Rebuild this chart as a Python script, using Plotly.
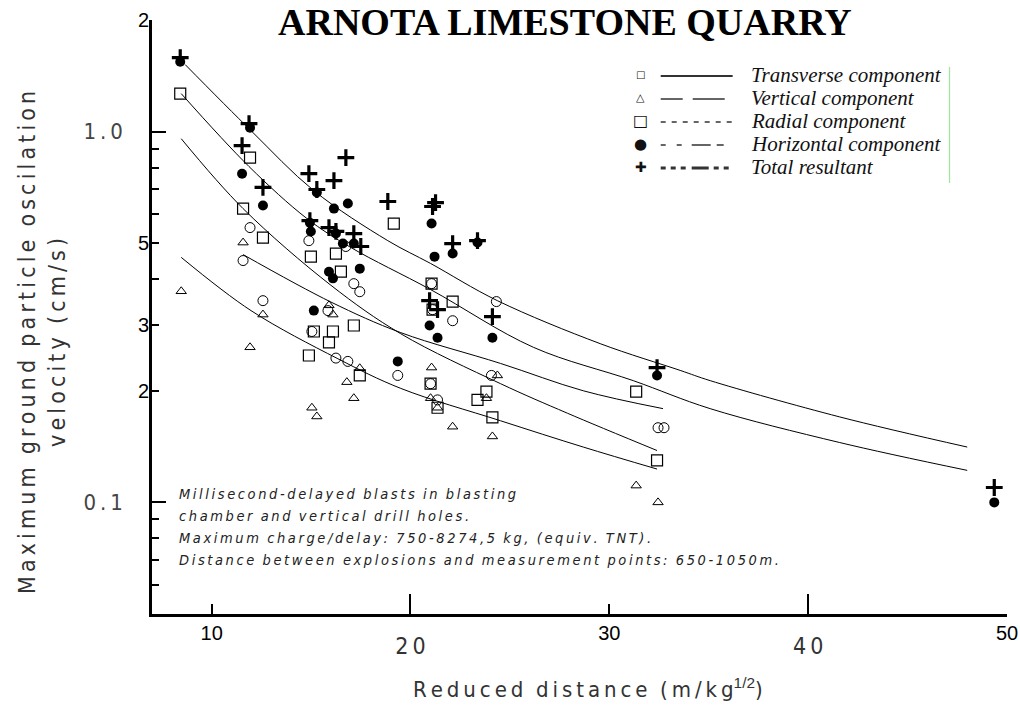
import plotly.graph_objects as go

# ---------------- data ----------------
# Reduced distance (m/kg^1/2) and max ground particle velocity (cm/s)
trans_x = [11.93, 11.58, 12.58, 14.89, 15.85, 15.04, 16.25, 16.75, 16.85, 17.15, 17.45,
           19.36, 21.06, 21.11, 22.12, 21.01, 21.36, 24.07, 24.32, 32.45, 32.75]
trans_v = [0.551, 0.449, 0.350, 0.508, 0.329, 0.289, 0.245, 0.490, 0.240, 0.389, 0.370,
           0.220, 0.389, 0.331, 0.309, 0.209, 0.189, 0.220, 0.348, 0.159, 0.159]

vert_x = [8.47, 11.58, 12.58, 11.93, 15.90, 16.10, 15.04, 15.29, 16.80, 17.15, 17.45,
          21.06, 21.01, 21.36, 22.12, 23.82, 24.37, 24.12, 31.35, 32.45]
vert_v = [0.371, 0.502, 0.321, 0.262, 0.340, 0.321, 0.180, 0.1705, 0.211, 0.191, 0.230,
          0.231, 0.191, 0.180, 0.160, 0.191, 0.220, 0.1506, 0.111, 0.100]

rad_x = [8.42, 11.93, 11.58, 12.58, 14.99, 16.25, 16.50, 15.14, 16.10, 15.90, 14.89, 17.15,
         17.45, 19.16, 21.06, 22.12, 21.11, 21.01, 21.36, 23.82, 23.37, 24.12, 31.35, 32.40]
rad_v = [1.266, 0.851, 0.620, 0.518, 0.460, 0.469, 0.419, 0.289, 0.289, 0.270, 0.249, 0.300,
         0.220, 0.565, 0.389, 0.348, 0.331, 0.209, 0.180, 0.199, 0.189, 0.1695, 0.199, 0.1298]

hor_x = [8.42, 11.93, 11.53, 12.58, 14.94, 14.99, 15.29, 16.15, 16.85, 16.25, 16.60, 17.15,
         15.90, 16.10, 17.45, 15.14, 19.36, 21.06, 21.21, 22.12, 23.37, 20.96, 21.36, 24.12,
         32.40, 49.36]
hor_v = [1.544, 1.025, 0.770, 0.632, 0.568, 0.538, 0.685, 0.620, 0.640, 0.531, 0.499, 0.499,
         0.419, 0.402, 0.427, 0.329, 0.240, 0.565, 0.460, 0.469, 0.502, 0.300, 0.278, 0.278,
         0.220, 0.100]

tot_x = [8.42, 11.88, 11.53, 12.58, 14.89, 15.29, 16.15, 16.75, 18.86, 14.94, 15.90, 16.25,
         17.15, 17.50, 21.11, 21.26, 22.12, 23.37, 20.96, 21.36, 24.12, 32.40, 49.36]
tot_v = [1.583, 1.051, 0.917, 0.707, 0.770, 0.698, 0.738, 0.851, 0.648, 0.575, 0.551, 0.538,
         0.531, 0.490, 0.628, 0.643, 0.499, 0.508, 0.350, 0.331, 0.317, 0.231, 0.1097]

# fitted curves
fit_tot_x = [8.67, 11.98, 15.14, 18.86, 21.01, 24.37, 29.54, 33.56, 35.07, 41.59, 48.0]
fit_tot_v = [1.516, 1.006, 0.693, 0.508, 0.441, 0.350, 0.268, 0.227, 0.213, 0.170, 0.141]
fit_hor_x = [8.47, 11.88, 14.79, 17.0, 21.01, 26.18, 31.20, 35.07, 41.59, 48.0]
fit_hor_v = [1.266, 0.805, 0.583, 0.487, 0.375, 0.262, 0.213, 0.179, 0.145, 0.122]
fit_rad_x = [8.47, 11.58, 16.0, 19.51, 24.53, 27.89, 32.40]
fit_rad_v = [0.957, 0.620, 0.385, 0.285, 0.209, 0.174, 0.138]
fit_trans_x = [11.58, 16.0, 19.51, 24.53, 28.69, 32.70]
fit_trans_v = [0.466, 0.347, 0.287, 0.237, 0.200, 0.179]
fit_vert_x = [8.47, 11.98, 16.35, 19.51, 24.53, 28.69, 32.40]
fit_vert_v = [0.458, 0.329, 0.244, 0.203, 0.166, 0.141, 0.123]

x_major_vals = [20, 40]
x_major_text = ["20", "40"]
x_minor_vals = [10, 30, 50]
x_minor_text = ["10", "30", "50"]
y_major_vals = [1.0, 0.1]
y_major_text = ["1.0", "0.1"]
y_mid_vals = [2, 0.5, 0.3, 0.2]
y_mid_text = ["2", "5", "3", "2"]
y_small_vals = [0.9, 0.8, 0.7, 0.6, 0.4, 0.09, 0.08, 0.07, 0.06]

legend_names = ["Transverse component", "Vertical component", "Radial component",
                "Horizontal component", "Total resultant"]
note_lines = ["Millisecond-delayed blasts in blasting",
              "chamber and vertical drill holes.",
              "Maximum charge/delay: 750-8274,5 kg, (equiv. TNT).",
              "Distance between explosions and measurement points: 650-1050m."]

# ---------------- helpers ----------------
TS = "\u2009"


def sp(s):
    return TS.join(s).replace(TS + " " + TS, "  ")


W, H = 1020, 706
L, R, T, B = 152, 1007.5, 20, 614


def pxx(px):
    return (px - L) / (R - L)


def pyy(py):
    return (B - py) / (B - T)


NARROW = "Liberation Sans Narrow, DejaVu Sans Condensed, Arial Narrow, sans-serif"
ARIAL = "Liberation Sans, Arial, sans-serif"
SERIF = "Liberation Serif, Times New Roman, serif"

fig = go.Figure()

# curves
for cx, cv in [(fit_tot_x, fit_tot_v), (fit_hor_x, fit_hor_v), (fit_rad_x, fit_rad_v),
               (fit_trans_x, fit_trans_v), (fit_vert_x, fit_vert_v)]:
    fig.add_trace(go.Scatter(x=cx, y=cv, mode="lines",
                             line=dict(color="black", width=1, shape="spline", smoothing=1.0),
                             hoverinfo="skip", showlegend=False))

# points
fig.add_trace(go.Scatter(x=trans_x, y=trans_v, mode="markers", name=legend_names[0],
                         marker=dict(symbol="circle-open", size=10, color="black",
                                     line=dict(width=1, color="black")), showlegend=False))
fig.add_trace(go.Scatter(x=vert_x, y=vert_v, mode="markers", name=legend_names[1],
                         marker=dict(symbol="triangle-up-open", size=9, color="black",
                                     line=dict(width=1, color="black")), showlegend=False))
fig.add_trace(go.Scatter(x=rad_x, y=rad_v, mode="markers", name=legend_names[2],
                         marker=dict(symbol="square-open", size=11, color="black",
                                     line=dict(width=1.2, color="black")), showlegend=False))
fig.add_trace(go.Scatter(x=hor_x, y=hor_v, mode="markers", name=legend_names[3],
                         marker=dict(symbol="circle", size=10, color="black"), showlegend=False))
fig.add_trace(go.Scatter(x=tot_x, y=tot_v, mode="markers", name=legend_names[4],
                         xaxis="x2", yaxis="y2",
                         marker=dict(symbol="cross-thin", size=12, color="black",
                                     line=dict(width=3.2, color="black")), showlegend=False))

yr = [-1.30103, 0.30103]
xr = [7, 50]

fig.update_layout(
    width=W, height=H, autosize=False,
    margin=dict(l=L, r=W - R, t=T, b=H - B),
    paper_bgcolor="white", plot_bgcolor="white",
    showlegend=False,
    xaxis=dict(range=xr, showgrid=False, zeroline=False, showline=True, linecolor="black",
               linewidth=2.5, ticks="inside", ticklen=20, tickwidth=2, tickcolor="black",
               tickmode="array", tickvals=x_major_vals, ticktext=[sp(t) for t in x_major_text],
               tickfont=dict(family=NARROW, size=23, color="#333"), ticklabelstandoff=10,
               automargin=False, mirror=False),
    xaxis2=dict(range=xr, overlaying="x", anchor="y", side="bottom", showgrid=False,
                zeroline=False, showline=False, ticks="inside", ticklen=10, tickwidth=2,
                tickcolor="black", tickmode="array", tickvals=x_minor_vals,
                ticktext=x_minor_text, tickfont=dict(family=ARIAL, size=20, color="black"),
                ticklabelstandoff=5, automargin=False),
    yaxis=dict(type="log", range=yr, showgrid=False, zeroline=False, showline=True,
               linecolor="black", linewidth=2.5, ticks="inside", ticklen=14, tickwidth=2,
               tickcolor="black", tickmode="array", tickvals=y_major_vals,
               ticktext=[sp(t) for t in y_major_text],
               tickfont=dict(family=NARROW, size=22, color="#444"), ticklabelstandoff=22,
               automargin=False,
               minor=dict(ticks="inside", ticklen=7, tickwidth=2, tickcolor="black",
                          tickvals=y_small_vals)),
    yaxis2=dict(type="log", range=yr, overlaying="y", anchor="x", side="left",
                showgrid=False, zeroline=False, showline=False, ticks="inside", ticklen=7,
                tickwidth=2, tickcolor="black", tickmode="array", tickvals=y_mid_vals,
                ticktext=y_mid_text, tickfont=dict(family=ARIAL, size=20, color="black"),
                ticklabelstandoff=2, automargin=False),
)

ann = []
# title
ann.append(dict(text="<b>ARNOTA LIMESTONE QUARRY</b>", x=pxx(565), y=pyy(22), xref="paper",
                yref="paper", xanchor="center", yanchor="middle", showarrow=False,
                font=dict(family=SERIF, size=38, color="black")))
# y title
ann.append(dict(text=sp("Maximum ground particle oscilation") + "<br>" + sp("velocity (cm/s)"),
                x=pxx(42), y=pyy(343), xref="paper", yref="paper", xanchor="center",
                yanchor="middle", textangle=-90, showarrow=False,
                font=dict(family=NARROW, size=23, color="#333")))
# x title
ann.append(dict(text=sp("Reduced distance (m/kg")
                + "<span style='font-family:Liberation Sans, Arial'><sup>1/2</sup></span>)",
                x=pxx(588), y=pyy(688), xref="paper", yref="paper", xanchor="center",
                yanchor="middle", showarrow=False,
                font=dict(family=NARROW, size=22, color="#333")))
# note block
for i, line in enumerate(note_lines):
    ann.append(dict(text="<i>" + sp(line) + "</i>",
                    x=pxx(177), y=pyy(494 + 22 * i), xref="paper", yref="paper",
                    xanchor="left", yanchor="middle", showarrow=False,
                    font=dict(family=NARROW, size=14.5, color="#222")))

# legend
rows = [75, 98, 121, 144, 167]
glyphs = [("\u25a1", 10), ("\u25b3", 11), ("\u25a1", 16), ("\u25cf", 15), ("\u271a", 14)]
for (g, s), yv in zip(glyphs, rows):
    ann.append(dict(text=g, x=pxx(641), y=pyy(yv), xref="paper", yref="paper",
                    xanchor="center", yanchor="middle", showarrow=False,
                    font=dict(family="DejaVu Sans", size=s, color="#111")))
for name, yv in zip(legend_names, rows):
    ann.append(dict(text="<i>" + name + "</i>", x=pxx(749), y=pyy(yv), xref="paper",
                    yref="paper", xanchor="left", yanchor="middle", showarrow=False,
                    font=dict(family=SERIF, size=21, color="#111")))
fig.update_layout(annotations=ann)

dashes = ["solid", "22px,10px,32px,10px", "5px,6px", "5px,11px,5px,10px,19px,6px,7px,20px",
          "5px,5px,5px,5px,5px,6px,17px,5px,5px,5px,5px,5px"]
widths = [2.2, 1.5, 1.5, 1.5, 3]
shapes = []
for d, w, yv in zip(dashes, widths, rows):
    shapes.append(dict(type="line", xref="paper", yref="paper", x0=pxx(661), x1=pxx(733),
                       y0=pyy(yv + 1), y1=pyy(yv + 1), line=dict(color="#333", width=w, dash=d)))
shapes.append(dict(type="line", xref="paper", yref="paper", x0=pxx(950), x1=pxx(950),
                   y0=pyy(67), y1=pyy(183), line=dict(color="#9be89b", width=1.2)))
fig.update_layout(shapes=shapes)

fig.write_html("out.html", config={"displayModeBar": False},
               post_script="document.body.style.margin='0px';")
